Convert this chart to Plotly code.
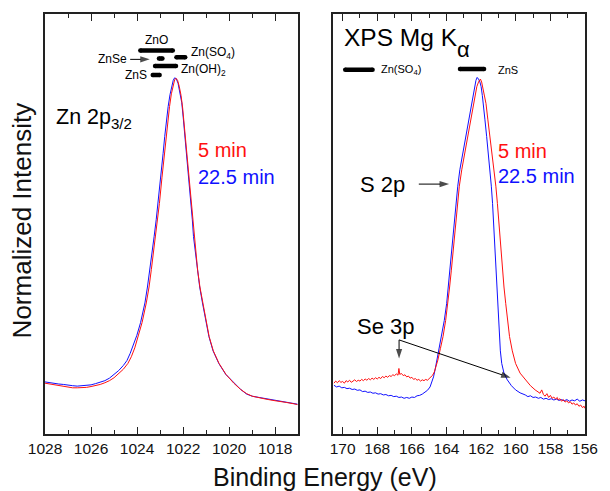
import plotly.graph_objects as go

# ---------------- Zn 2p3/2 region ----------------
zn_be_22 = [1028.0, 1027.8, 1027.6, 1027.4, 1027.2, 1027.0, 1026.8, 1026.6, 1026.4, 1026.2,
            1026.0, 1025.8, 1025.6, 1025.4, 1025.2, 1025.0, 1024.8, 1024.6, 1024.44, 1024.3,
            1024.15, 1024.01, 1023.85, 1023.66, 1023.55, 1023.44, 1023.35, 1023.26, 1023.17, 1023.09,
            1022.98, 1022.87, 1022.80, 1022.73, 1022.65, 1022.57, 1022.50, 1022.43, 1022.37, 1022.30,
            1022.22, 1022.14, 1022.06, 1021.99, 1021.92, 1021.86, 1021.80, 1021.73, 1021.66, 1021.60,
            1021.55, 1021.47, 1021.38, 1021.28, 1021.16, 1021.03, 1020.88, 1020.70, 1020.45, 1020.15,
            1019.81, 1019.50, 1019.24, 1019.0, 1018.7, 1018.4, 1018.1, 1017.8, 1017.5, 1017.2, 1017.03]
zn_int_22 = [0.124, 0.122, 0.121, 0.119, 0.118, 0.116, 0.115, 0.114, 0.115, 0.116,
             0.117, 0.120, 0.123, 0.127, 0.133, 0.141, 0.151, 0.163, 0.175, 0.192,
             0.212, 0.235, 0.265, 0.312, 0.350, 0.392, 0.430, 0.470, 0.510, 0.549,
             0.610, 0.668, 0.708, 0.745, 0.780, 0.808, 0.828, 0.842, 0.848, 0.846,
             0.835, 0.815, 0.789, 0.750, 0.709, 0.670, 0.630, 0.590, 0.550, 0.510,
             0.470, 0.430, 0.390, 0.350, 0.312, 0.270, 0.232, 0.198, 0.168, 0.142,
             0.122, 0.106, 0.095, 0.090, 0.087, 0.084, 0.081, 0.078, 0.076, 0.073, 0.071]

zn_be_5 = [1028.0, 1027.8, 1027.6, 1027.4, 1027.2, 1027.0, 1026.8, 1026.6, 1026.4, 1026.2,
           1026.0, 1025.8, 1025.6, 1025.4, 1025.2, 1025.0, 1024.8, 1024.6, 1024.4, 1024.25,
           1024.1, 1023.95, 1023.78, 1023.60, 1023.48, 1023.38, 1023.29, 1023.20, 1023.11, 1023.03,
           1022.92, 1022.81, 1022.74, 1022.67, 1022.59, 1022.51, 1022.44, 1022.37, 1022.31, 1022.24,
           1022.17, 1022.09, 1022.02, 1021.96, 1021.90, 1021.84, 1021.78, 1021.71, 1021.65, 1021.59,
           1021.53, 1021.46, 1021.37, 1021.27, 1021.15, 1021.02, 1020.87, 1020.69, 1020.44, 1020.14,
           1019.80, 1019.50, 1019.24, 1019.0, 1018.7, 1018.4, 1018.1, 1017.8, 1017.5, 1017.2, 1017.03]
zn_int_5 = [0.121, 0.119, 0.117, 0.115, 0.113, 0.111, 0.110, 0.110, 0.110, 0.111,
            0.113, 0.115, 0.118, 0.122, 0.127, 0.134, 0.143, 0.154, 0.168, 0.184,
            0.205, 0.232, 0.266, 0.312, 0.350, 0.392, 0.430, 0.470, 0.510, 0.549,
            0.610, 0.668, 0.708, 0.745, 0.780, 0.810, 0.830, 0.843, 0.847, 0.842,
            0.828, 0.806, 0.776, 0.740, 0.702, 0.664, 0.625, 0.585, 0.547, 0.508,
            0.470, 0.430, 0.390, 0.350, 0.312, 0.270, 0.232, 0.198, 0.168, 0.142,
            0.121, 0.106, 0.096, 0.090, 0.086, 0.083, 0.080, 0.078, 0.075, 0.072, 0.070]

# ---------------- S 2p / Se 3p region ----------------
s_be_22 = [170.50, 170.35, 170.20, 170.05, 169.90, 169.75, 169.60, 169.45, 169.30, 169.15,
           169.00, 168.85, 168.70, 168.55, 168.40, 168.25, 168.10, 167.95, 167.80, 167.65,
           167.50, 167.35, 167.20, 167.05, 166.90, 166.75, 166.60, 166.45, 166.30, 166.15,
           166.00, 165.85, 165.70, 165.55, 165.40, 165.25, 165.10, 164.95, 164.85, 164.75,
           164.65, 164.56, 164.42, 164.28, 164.13, 163.99, 163.90, 163.80, 163.72, 163.65,
           163.56, 163.46, 163.35, 163.23, 163.06, 162.89, 162.73, 162.57, 162.47, 162.38,
           162.30, 162.23, 162.15, 162.07, 162.00, 161.93, 161.87, 161.78, 161.68, 161.58,
           161.49, 161.41, 161.34, 161.29, 161.25, 161.20, 161.15, 161.10, 161.06, 161.01,
           160.96, 160.89, 160.81, 160.68, 160.49, 160.25, 160.01, 159.75, 159.45, 159.30,
           159.15, 159.00, 158.85, 158.69, 158.55, 158.40, 158.25, 158.10, 157.95, 157.80,
           157.65, 157.50, 157.36, 157.20, 157.05, 156.90, 156.75, 156.60, 156.45, 156.30,
           156.15, 156.00]
s_int_22 = [0.116, 0.112, 0.114, 0.110, 0.111, 0.108, 0.109, 0.106, 0.107, 0.104,
            0.105, 0.101, 0.102, 0.099, 0.100, 0.097, 0.098, 0.095, 0.096, 0.093,
            0.094, 0.091, 0.092, 0.089, 0.090, 0.087, 0.088, 0.085, 0.087, 0.085,
            0.088, 0.087, 0.091, 0.092, 0.095, 0.099, 0.104, 0.112, 0.122, 0.136,
            0.155, 0.176, 0.204, 0.232, 0.270, 0.311, 0.350, 0.390, 0.430, 0.470,
            0.510, 0.549, 0.590, 0.629, 0.668, 0.708, 0.748, 0.787, 0.808, 0.827,
            0.842, 0.849, 0.845, 0.838, 0.827, 0.806, 0.787, 0.748, 0.708, 0.668,
            0.629, 0.590, 0.549, 0.510, 0.470, 0.430, 0.390, 0.350, 0.311, 0.270,
            0.232, 0.198, 0.168, 0.145, 0.129, 0.115, 0.105, 0.098, 0.093, 0.089,
            0.091, 0.087, 0.088, 0.085, 0.087, 0.083, 0.085, 0.082, 0.084, 0.081,
            0.083, 0.080, 0.082, 0.079, 0.082, 0.078, 0.081, 0.079, 0.083, 0.078,
            0.081, 0.079]

s_be_5 = [170.50, 170.40, 170.30, 170.20, 170.10, 170.00, 169.90, 169.80, 169.70, 169.60,
          169.50, 169.40, 169.30, 169.20, 169.10, 169.00, 168.90, 168.80, 168.70, 168.60,
          168.50, 168.40, 168.30, 168.20, 168.10, 168.00, 167.90, 167.80, 167.70, 167.60,
          167.50, 167.40, 167.30, 167.20, 167.10, 167.00, 166.90, 166.80, 166.75, 166.70,
          166.60, 166.50, 166.40, 166.30, 166.20, 166.10, 166.00, 165.90, 165.80, 165.70,
          165.60, 165.50, 165.40, 165.30, 165.20, 165.10, 165.00, 164.90, 164.80, 164.70,
          164.60, 164.50, 164.35, 164.20, 164.05, 163.92, 163.82, 163.72, 163.63, 163.55,
          163.46, 163.37, 163.26, 163.12, 162.95, 162.78, 162.61, 162.45, 162.35, 162.25,
          162.15, 162.04, 161.97, 161.91, 161.83, 161.72, 161.61, 161.49, 161.37, 161.25,
          161.15, 161.06, 160.99, 160.92, 160.85, 160.77, 160.68, 160.58, 160.48, 160.36,
          160.20, 160.01, 159.75, 159.45, 159.15, 158.88, 158.75, 158.60, 158.50, 158.40,
          158.31, 158.20, 158.10, 158.00, 157.90, 157.80, 157.70, 157.60, 157.55, 157.45,
          157.35, 157.25, 157.15, 157.05, 156.95, 156.85, 156.75, 156.65, 156.55, 156.45,
          156.35, 156.25, 156.15, 156.05, 156.00]
s_int_5 = [0.121, 0.126, 0.122, 0.127, 0.123, 0.125, 0.121, 0.127, 0.124, 0.128,
           0.123, 0.126, 0.129, 0.125, 0.128, 0.126, 0.130, 0.127, 0.131, 0.128,
           0.132, 0.129, 0.133, 0.130, 0.134, 0.131, 0.135, 0.132, 0.137, 0.134,
           0.138, 0.135, 0.139, 0.137, 0.141, 0.139, 0.143, 0.140, 0.156, 0.142,
           0.144, 0.139, 0.141, 0.136, 0.138, 0.133, 0.135, 0.130, 0.132, 0.128,
           0.130, 0.126, 0.129, 0.127, 0.130, 0.128, 0.132, 0.134, 0.140, 0.148,
           0.160, 0.176, 0.204, 0.232, 0.270, 0.311, 0.350, 0.390, 0.430, 0.470,
           0.510, 0.549, 0.590, 0.629, 0.668, 0.708, 0.748, 0.787, 0.808, 0.827,
           0.838, 0.845, 0.838, 0.827, 0.808, 0.787, 0.748, 0.708, 0.668, 0.629,
           0.590, 0.549, 0.510, 0.470, 0.430, 0.390, 0.350, 0.311, 0.270, 0.232,
           0.198, 0.168, 0.145, 0.129, 0.115, 0.105, 0.101, 0.097, 0.105, 0.094,
           0.090, 0.096, 0.087, 0.092, 0.085, 0.088, 0.083, 0.087, 0.081, 0.084,
           0.078, 0.082, 0.076, 0.079, 0.074, 0.077, 0.071, 0.074, 0.069, 0.072,
           0.066, 0.069, 0.063, 0.066, 0.061]

# Reference binding-energy ranges of Zn compounds (start, end, level)
zn_ref_names = ["ZnO", "ZnSe", "Zn(SO4)", "Zn(OH)2", "ZnS"]
zn_ref_start = [1023.86, 1023.05, 1022.29, 1023.22, 1023.32]
zn_ref_end = [1022.45, 1022.90, 1021.91, 1022.31, 1023.02]
zn_ref_level = [0.913, 0.894, 0.897, 0.876, 0.855]

s_ref_names = ["Zn(SO4)", "ZnS"]
s_ref_start = [169.85, 163.22]
s_ref_end = [168.27, 161.83]
s_ref_level = [0.867, 0.869]

RED = "#ff1010"
BLUE = "#1010ff"
FONT = "Arial, Liberation Sans, sans-serif"

fig = go.Figure()

fig.add_trace(go.Scatter(x=zn_be_22, y=zn_int_22, mode="lines",
                         line=dict(color=BLUE, width=1), xaxis="x", yaxis="y"))
fig.add_trace(go.Scatter(x=zn_be_5, y=zn_int_5, mode="lines",
                         line=dict(color=RED, width=1), xaxis="x", yaxis="y"))
fig.add_trace(go.Scatter(x=s_be_22, y=s_int_22, mode="lines",
                         line=dict(color=BLUE, width=1), xaxis="x2", yaxis="y2"))
fig.add_trace(go.Scatter(x=s_be_5, y=s_int_5, mode="lines",
                         line=dict(color=RED, width=1), xaxis="x2", yaxis="y2"))

# reference bars with rounded ends
for s, e, lv in zip(zn_ref_start, zn_ref_end, zn_ref_level):
    fig.add_trace(go.Scatter(x=[s, e], y=[lv, lv], mode="lines+markers",
                             line=dict(color="black", width=4.5),
                             marker=dict(color="black", size=4.5),
                             xaxis="x", yaxis="y"))
for s, e, lv in zip(s_ref_start, s_ref_end, s_ref_level):
    fig.add_trace(go.Scatter(x=[s, e], y=[lv, lv], mode="lines+markers",
                             line=dict(color="black", width=4.5),
                             marker=dict(color="black", size=4.5),
                             xaxis="x2", yaxis="y2"))


def arrow(x0, y0, x1, y1, xa, ya):
    """Thin pointer line from (x0, y0) with a filled head at (x1, y1)."""
    fig.add_trace(go.Scatter(x=[x0, x1], y=[y0, y1], mode="lines+markers",
                             line=dict(color="black", width=1),
                             marker=dict(symbol="arrow", size=[0, 10], angleref="previous",
                                         color="black", line=dict(width=0)),
                             xaxis=xa, yaxis=ya))


arrow(1024.30, 0.892, 1023.45, 0.892, "x", "y")
arrow(165.60, 0.595, 163.85, 0.595, "x2", "y2")
arrow(166.74, 0.224, 166.74, 0.180, "x2", "y2")
arrow(166.74, 0.224, 160.30, 0.134, "x2", "y2")

axis_common = dict(
    showline=True, linecolor="#222", linewidth=1.5, mirror="allticks",
    ticks="inside", ticklen=7, tickwidth=1.2, tickcolor="#222",
    dtick=2, showgrid=False, zeroline=False,
    tickfont=dict(family=FONT, size=15.5, color="#111"),
    minor=dict(ticks="inside", ticklen=4, tickwidth=1.2, tickcolor="#222", dtick=1),
)
yaxis_common = dict(
    range=[0, 1], domain=[0, 1], showline=True, linecolor="#222", linewidth=1.5,
    mirror=True, ticks="", showticklabels=False, showgrid=False, zeroline=False,
)

fig.update_layout(
    width=610, height=491,
    margin=dict(l=45, r=16, t=14, b=57),
    paper_bgcolor="white", plot_bgcolor="white",
    showlegend=False,
    xaxis=dict(domain=[0, 0.4681], range=[1028, 1017.02], anchor="y", tick0=1028, **axis_common),
    xaxis2=dict(domain=[0.5337, 1.0], range=[170.545, 156], anchor="y2", tick0=156, **axis_common),
    yaxis=dict(anchor="x", **yaxis_common),
    yaxis2=dict(anchor="x2", **yaxis_common),
)

ann = []


def label(text, x, y, xref, yref, size, color="black", xanchor="left", yanchor="middle"):
    ann.append(dict(text=text, x=x, y=y, xref=xref, yref=yref, showarrow=False,
                    xanchor=xanchor, yanchor=yanchor,
                    font=dict(family=FONT, size=size, color=color)))


# left panel texts
label("Zn 2p<sub>3/2</sub>", 1027.6, 0.752, "x", "y", 21.5)
label("5 min", 1021.46, 0.676, "x", "y", 20, RED)
label("22.5 min", 1021.46, 0.612, "x", "y", 20, BLUE)
label("ZnO", 1023.17, 0.938, "x", "y", 12, xanchor="center")
label("ZnSe", 1024.37, 0.892, "x", "y", 12, xanchor="right")
label("Zn(SO<sub>4</sub>)", 1021.76, 0.906, "x", "y", 12)
label("Zn(OH)<sub>2</sub>", 1022.16, 0.867, "x", "y", 12)
label("ZnS", 1023.48, 0.855, "x", "y", 12, xanchor="right")

# right panel texts
label("XPS Mg K", 170.03, 0.943, "x2", "y2", 24.5)
label("α", 163.0, 0.916, "x2", "y2", 22, xanchor="center")
label("Zn(SO<sub>4</sub>)", 167.875, 0.866, "x2", "y2", 11)
label("ZnS", 161.15, 0.867, "x2", "y2", 11)
label("5 min", 161.15, 0.674, "x2", "y2", 20, RED)
label("22.5 min", 161.15, 0.614, "x2", "y2", 20, BLUE)
label("S 2p", 169.11, 0.593, "x2", "y2", 22)
label("Se 3p", 169.30, 0.255, "x2", "y2", 22)

# axis titles
ann.append(dict(text="Normalized Intensity", x=-0.0419, y=0.5095, xref="paper", yref="paper",
                showarrow=False, textangle=-90, xanchor="center", yanchor="middle",
                font=dict(family=FONT, size=26, color="#111")))
ann.append(dict(text="Binding Energy (eV)", x=0.519, y=-0.102, xref="paper", yref="paper",
                showarrow=False, xanchor="center", yanchor="middle",
                font=dict(family=FONT, size=25, color="#111")))

fig.update_layout(annotations=ann)

fig.write_html("out.html")
